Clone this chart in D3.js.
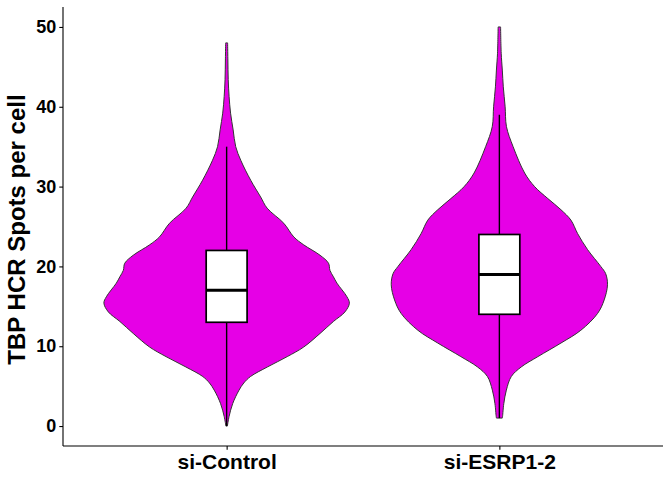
<!DOCTYPE html>
<html>
<head>
<meta charset="utf-8">
<script src="https://cdn.jsdelivr.net/npm/d3@7"></script>
<style>
  html, body { margin: 0; padding: 0; background: #ffffff; }
  svg { display: block; font-family: "Liberation Sans", Arial, Helvetica, sans-serif; }
</style>
</head>
<body>
<svg id="chart" width="672" height="480"></svg>
<script>
// ---------- data ----------
const categories = ["si-Control", "si-ESRP1-2"];
const yTicks = [0, 10, 20, 30, 40, 50];
const yTitle = "TBP HCR Spots per cell";

// violin density profiles (spots value, relative density)
const controlSpots   = [0, 1.2, 2.8, 4.5, 5.4, 6.2, 7.4, 8.7, 9.9, 11.6, 13.1, 14.3, 15.4, 16.2, 17.9, 18.7, 19.5, 20.4, 21.4, 22.7, 23.7, 25.4, 27.3, 28.7, 30.8, 33.3, 35.0, 37.1, 39.2, 41.3, 43.4, 46.0, 48.0];
const controlDensity = [0.6, 2.0, 4.9, 10.1, 14.0, 19.4, 33.2, 49.4, 62.8, 76.1, 87.0, 96.4, 100, 98.0, 89.9, 87.0, 84.2, 83.0, 76.1, 62.8, 54.7, 46.6, 33.0, 27.7, 19.6, 11.5, 7.4, 5.3, 3.2, 2.0, 1.3, 1.0, 0.8];

const esrpSpots   = [1.0, 1.2, 2.8, 4.5, 6.2, 7.4, 8.7, 10.4, 12.0, 14.1, 15.8, 17.7, 19.1, 20.0, 22.1, 24.1, 25.8, 27.1, 28.5, 30.0, 31.7, 35.0, 37.5, 40.0, 42.5, 44.6, 46.7, 50.0];
const esrpDensity = [2.4, 2.6, 3.6, 5.7, 9.7, 17.8, 31.4, 50.2, 66.4, 80.0, 85.4, 88.1, 86.6, 82.6, 71.9, 63.8, 58.3, 50.2, 39.5, 28.7, 20.6, 11.2, 5.8, 4.7, 3.2, 2.4, 1.5, 1.0];

// boxplot statistics per category
const whiskerLow  = [0, 1];
const q1          = [13, 14];
const median      = [17, 19];
const q3          = [22, 24];
const whiskerHigh = [35, 39];

// ---------- layout ----------
const svg = d3.select("#chart");
const panel = { left: 63, right: 663, top: 7, bottom: 446 };

const x = d3.scalePoint()
  .domain(categories)
  .range([panel.left, panel.right])
  .padding(0.6);
const step = x.step();

const y = d3.scaleLinear()
  .domain([-2.5, 52.5])
  .range([panel.bottom, panel.top]);

const wScale = d3.scaleLinear()
  .domain([0, 100])
  .range([0, step * 0.45]);

const violins = [
  { cat: categories[0], spots: controlSpots, dens: controlDensity },
  { cat: categories[1], spots: esrpSpots, dens: esrpDensity }
];

// ---------- violins ----------
violins.forEach(v => {
  const cx = x(v.cat);
  const pts = v.spots.map((s, i) => ({ s: s, d: v.dens[i] }));
  const area = d3.area()
    .y(d => y(d.s))
    .x0(d => cx - wScale(d.d))
    .x1(d => cx + wScale(d.d))
    .curve(d3.curveCatmullRom.alpha(0.5));
  svg.append("path")
    .attr("d", area(pts))
    .attr("fill", "#e600e6")
    .attr("stroke", "#333333")
    .attr("stroke-width", 1);
});

// ---------- boxplots ----------
const boxW = step * 0.15;
categories.forEach((c, i) => {
  const cx = x(c);
  const g = svg.append("g");
  g.append("line")
    .attr("x1", cx).attr("x2", cx)
    .attr("y1", y(q3[i])).attr("y2", y(whiskerHigh[i]))
    .attr("stroke", "#000").attr("stroke-width", 1.4);
  g.append("line")
    .attr("x1", cx).attr("x2", cx)
    .attr("y1", y(q1[i])).attr("y2", y(whiskerLow[i]))
    .attr("stroke", "#000").attr("stroke-width", 1.4);
  g.append("rect")
    .attr("x", cx - boxW / 2)
    .attr("y", y(q3[i]))
    .attr("width", boxW)
    .attr("height", y(q1[i]) - y(q3[i]))
    .attr("fill", "#ffffff")
    .attr("stroke", "#000")
    .attr("stroke-width", 1.7);
  g.append("line")
    .attr("x1", cx - boxW / 2).attr("x2", cx + boxW / 2)
    .attr("y1", y(median[i])).attr("y2", y(median[i]))
    .attr("stroke", "#000").attr("stroke-width", 3);
});

// ---------- axes ----------
const yAxis = d3.axisLeft(y).tickValues(yTicks).tickSize(3.7).tickPadding(3);
const gy = svg.append("g")
  .attr("transform", `translate(${panel.left},0)`)
  .call(yAxis);
gy.select(".domain").remove();
gy.append("line")
  .attr("x1", 0).attr("x2", 0)
  .attr("y1", panel.top).attr("y2", panel.bottom)
  .attr("stroke", "#000").attr("stroke-width", 1.1);
gy.selectAll(".tick line").attr("stroke", "#000").attr("stroke-width", 1.1);
gy.selectAll(".tick text")
  .attr("fill", "#000")
  .style("font-size", "18px")
  .style("font-weight", "bold");

const xAxis = d3.axisBottom(x).tickSize(3.7).tickPadding(4);
const gx = svg.append("g")
  .attr("transform", `translate(0,${panel.bottom})`)
  .call(xAxis);
gx.select(".domain").remove();
gx.append("line")
  .attr("x1", panel.left).attr("x2", panel.right)
  .attr("y1", 0).attr("y2", 0)
  .attr("stroke", "#000").attr("stroke-width", 1.1);
gx.selectAll(".tick line").attr("stroke", "#000").attr("stroke-width", 1.1);
gx.selectAll(".tick text")
  .attr("fill", "#000")
  .style("font-size", "21px")
  .style("font-weight", "bold");

// y-axis title
svg.append("text")
  .attr("transform", `translate(25,${(panel.top + panel.bottom) / 2 + 3}) rotate(-90)`)
  .attr("text-anchor", "middle")
  .attr("fill", "#000")
  .style("font-size", "24px")
  .style("font-weight", "bold")
  .text(yTitle);
</script>
</body>
</html>
